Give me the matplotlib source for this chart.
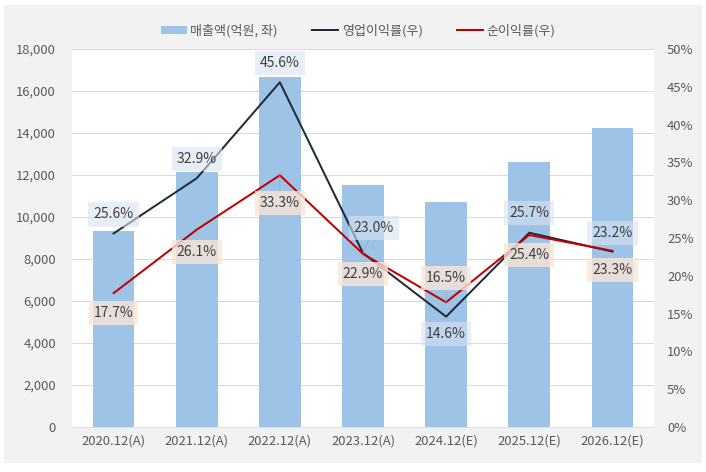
import matplotlib
matplotlib.use("Agg")
import matplotlib.pyplot as plt
import numpy as np
from matplotlib.patches import Patch, Rectangle
from matplotlib.lines import Line2D

plt.rcParams['font.family'] = ['Noto Sans CJK KR', 'DejaVu Sans']

# data
years = ['2020.12(A)', '2021.12(A)', '2022.12(A)', '2023.12(A)', '2024.12(E)', '2025.12(E)', '2026.12(E)']
sales = [9330, 12140, 16680, 11520, 10710, 12630, 14250]
op_margin = [25.6, 32.9, 45.6, 23.0, 14.6, 25.7, 23.2]
net_margin = [17.7, 26.1, 33.3, 22.9, 16.5, 25.4, 23.3]

# label offsets (px) for each point
op_off = [(0, 19), (0, 19), (0, 19), (11, 25), (0, -17), (0, 20), (0, 19)]
net_off = [(0, -20), (0, -22), (0, -28), (0, -20), (0, 24), (0, -20), (0, -19)]
op_leader = [False, False, False, True, False, False, False]
net_leader = [False, False, True, False, True, False, False]

W, H = 706, 472
fig = plt.figure(figsize=(W / 72, H / 72), dpi=72, facecolor='white')
fig.patches.append(Rectangle((4 / W, 9 / H), 698 / W, 458 / H, transform=fig.transFigure,
                             facecolor='#f2f2f2', edgecolor='none', zorder=-10))

ax = fig.add_axes([72 / W, 45 / H, 582 / W, 378 / H])
ax.set_facecolor('white')
x = np.arange(len(years))
ax.bar(x, sales, width=0.5, color='#9dc3e6', zorder=2)
ax.set_xlim(-0.5, len(years) - 0.5)
ax.set_ylim(0, 18000)
ax.set_yticks(np.arange(0, 18001, 2000))
ax.set_yticklabels([f"{v:,}" for v in range(0, 18001, 2000)])
ax.set_xticks(x)
ax.set_xticklabels(years)
ax.yaxis.grid(True, color='#d9d9d9', lw=1, zorder=0)
ax.set_axisbelow(True)
for s in ['top', 'right', 'left']:
    ax.spines[s].set_visible(False)
ax.spines['bottom'].set_color('#d9d9d9')
ax.tick_params(axis='both', length=0, colors='#595959', labelsize=13)
ax.tick_params(axis='y', pad=16)
ax.tick_params(axis='x', pad=8)

ax2 = ax.twinx()
ax2.set_ylim(0, 50)
ax2.set_yticks(np.arange(0, 51, 5))
ax2.set_yticklabels([f"{v}%" for v in range(0, 51, 5)])
for s in ax2.spines.values():
    s.set_visible(False)
ax2.tick_params(axis='y', length=0, colors='#595959', labelsize=13, pad=13)

ax2.plot(x, op_margin, color='#222a35', lw=2, zorder=3)
ax2.plot(x, net_margin, color='#c00000', lw=2, zorder=4)

def label(xi, yi, off, leader, face, alpha):
    ap = dict(arrowstyle='-', color='#a6a6a6', lw=0.8, shrinkA=0, shrinkB=0) if leader else None
    ax2.annotate(f"{yi:.1f}%", (xi, yi), xytext=off, textcoords='offset points',
                 ha='center', va='center', fontsize=14, color='#404040',
                 bbox=dict(boxstyle='square,pad=0.36', fc=face, ec='none', alpha=alpha),
                 arrowprops=ap, zorder=6)

for i in range(len(years)):
    label(x[i], op_margin[i], op_off[i], op_leader[i], '#dae3f3', 0.6)
    label(x[i], net_margin[i], net_off[i], net_leader[i], '#fbe5d6', 0.8)

handles = [Patch(facecolor='#9dc3e6', label='매출액(억원, 좌)'),
           Line2D([], [], color='#222a35', lw=2, label='영업이익률(우)'),
           Line2D([], [], color='#c00000', lw=2, label='순이익률(우)')]
fig.legend(handles=handles, loc='center', bbox_to_anchor=(358 / W, 1 - 31 / H), ncol=3,
           frameon=False, fontsize=13, labelcolor='#595959', handlelength=2.0,
           handleheight=0.55, columnspacing=2.6, handletextpad=0.3)

fig.savefig('out.png', dpi=72, facecolor='white')
